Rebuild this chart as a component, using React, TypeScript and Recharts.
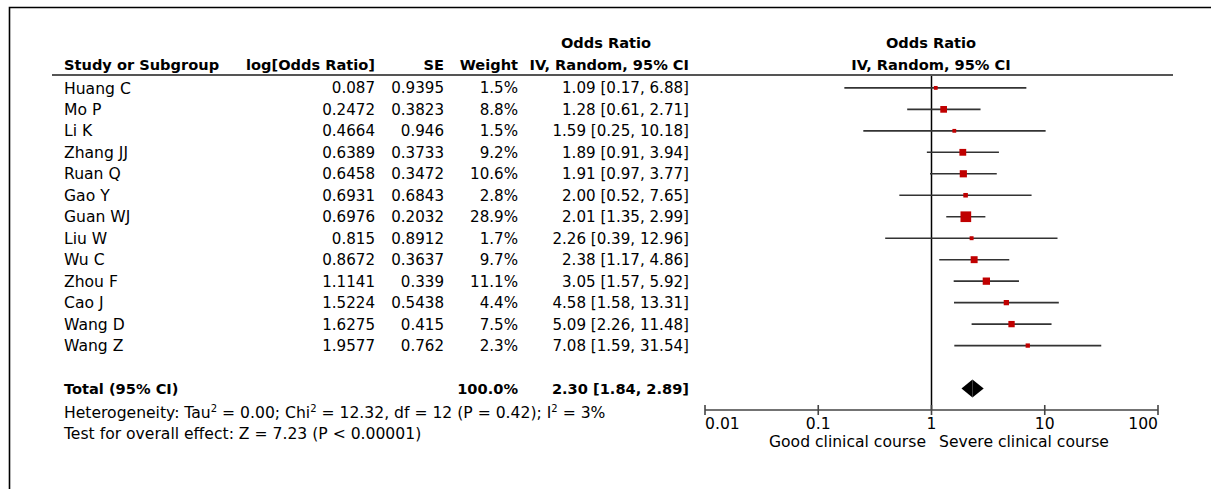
import React from 'react';
import {
  ScatterChart,
  Scatter,
  XAxis,
  YAxis,
  ReferenceLine,
  ReferenceArea,
} from 'recharts';

const studies = ['Huang C', 'Mo P', 'Li K', 'Zhang JJ', 'Ruan Q', 'Gao Y', 'Guan WJ', 'Liu W', 'Wu C', 'Zhou F', 'Cao J', 'Wang D', 'Wang Z'];
const logOdds = [0.087, 0.2472, 0.4664, 0.6389, 0.6458, 0.6931, 0.6976, 0.815, 0.8672, 1.1141, 1.5224, 1.6275, 1.9577];
const stdErr = [0.9395, 0.3823, 0.946, 0.3733, 0.3472, 0.6843, 0.2032, 0.8912, 0.3637, 0.339, 0.5438, 0.415, 0.762];
const weights = [1.5, 8.8, 1.5, 9.2, 10.6, 2.8, 28.9, 1.7, 9.7, 11.1, 4.4, 7.5, 2.3];
const oddsRatio = [1.09, 1.28, 1.59, 1.89, 1.91, 2.0, 2.01, 2.26, 2.38, 3.05, 4.58, 5.09, 7.08];
const ciLow = [0.17, 0.61, 0.25, 0.91, 0.97, 0.52, 1.35, 0.39, 1.17, 1.57, 1.58, 2.26, 1.59];
const ciHigh = [6.88, 2.71, 10.18, 3.94, 3.77, 7.65, 2.99, 12.96, 4.86, 5.92, 13.31, 11.48, 31.54];

const totalWeight = 100.0;
const totalOr = 2.3;
const totalLow = 1.84;
const totalHigh = 2.89;

const axisTicks = [0.01, 0.1, 1, 10, 100];
const axisTickLabels = ['0.01', '0.1', '1', '10', '100'];

const TOTAL_ROW = 14;
const FONT = '"DejaVu Sans", Verdana, sans-serif';
const FS_BOLD = 14.6; // headers and total row
const FS_NUM = 15.1; // numeric table cells
const FS_TEXT = 15.6; // names, footnotes, axis text
const RED = '#c00000';

const rows = studies.map((name, i) => ({
  name,
  row: i,
  or: oddsRatio[i],
  weight: weights[i],
}));

const fmtCi = (v: number, lo: number, hi: number) =>
  `${v.toFixed(2)} [${lo.toFixed(2)}, ${hi.toFixed(2)}]`;

// table columns (right edges except the study name)
const COL_NAME = 64;
const COL_LOG = 375;
const COL_SE = 444;
const COL_WEIGHT = 518;
const COL_CI = 689;

const RowTick = (props: any) => {
  const { y, payload } = props;
  const r = payload.value;
  const common = { fontFamily: FONT, fill: '#000', dy: '0.36em' };
  if (r === TOTAL_ROW) {
    return (
      <g fontWeight="bold" fontSize={FS_BOLD}>
        <text x={COL_NAME} y={y} {...common}>Total (95% CI)</text>
        <text x={COL_WEIGHT} y={y} {...common} textAnchor="end">{totalWeight.toFixed(1)}%</text>
        <text x={COL_CI} y={y} {...common} textAnchor="end">{fmtCi(totalOr, totalLow, totalHigh)}</text>
      </g>
    );
  }
  return (
    <g fontSize={FS_NUM}>
      <text x={COL_NAME} y={y} {...common} fontSize={FS_TEXT}>{studies[r]}</text>
      <text x={COL_LOG} y={y} {...common} textAnchor="end">{String(logOdds[r])}</text>
      <text x={COL_SE} y={y} {...common} textAnchor="end">{String(stdErr[r])}</text>
      <text x={COL_WEIGHT} y={y} {...common} textAnchor="end">{weights[r].toFixed(1)}%</text>
      <text x={COL_CI} y={y} {...common} textAnchor="end">{fmtCi(oddsRatio[r], ciLow[r], ciHigh[r])}</text>
    </g>
  );
};

const AxisTick = (props: any) => {
  const { x, y, index } = props;
  const anchor = index === 0 ? 'start' : index === axisTicks.length - 1 ? 'end' : 'middle';
  return (
    <g>
      <line x1={x} x2={x} y1={y - 5} y2={y + 5} stroke="#444" strokeWidth={1.6} />
      <text x={x} y={y + 19} textAnchor={anchor} fontFamily={FONT} fontSize={FS_TEXT} fill="#000">
        {axisTickLabels[index]}
      </text>
    </g>
  );
};

const WeightSquare = (props: any) => {
  const { cx, cy, payload } = props;
  const s = 1.8 + 1.65 * Math.sqrt(payload.weight);
  return <rect x={cx - s / 2} y={cy - s / 2} width={s} height={s} fill={RED} />;
};

const Sup = ({ children }: { children: React.ReactNode }) => (
  <tspan dy={-6} fontSize={10}>{children}</tspan>
);

const Header = () => {
  const t = { fontFamily: FONT, fontSize: FS_BOLD, fill: '#000' };
  const f = { fontFamily: FONT, fontSize: FS_TEXT, fill: '#000' };
  return (
    <svg width={1211} height={489} style={{ position: 'absolute', left: 0, top: 0, pointerEvents: 'none' }}>
      <path d="M9.5,489 V7.5 H1211" fill="none" stroke="#000" strokeWidth={1.6} />
      <g fontWeight="bold">
        <text x={606} y={48} {...t} textAnchor="middle">Odds Ratio</text>
        <text x={931} y={48} {...t} textAnchor="middle">Odds Ratio</text>
        <text x={COL_NAME} y={70} {...t}>Study or Subgroup</text>
        <text x={COL_LOG} y={70} {...t} textAnchor="end">log[Odds Ratio]</text>
        <text x={COL_SE} y={70} {...t} textAnchor="end">SE</text>
        <text x={COL_WEIGHT} y={70} {...t} textAnchor="end">Weight</text>
        <text x={COL_CI} y={70} {...t} textAnchor="end">IV, Random, 95% CI</text>
        <text x={931} y={70} {...t} textAnchor="middle">IV, Random, 95% CI</text>
      </g>
      <line x1={52} x2={1173} y1={75} y2={75} stroke="#555" strokeWidth={2} />
      <text x={COL_NAME} y={418} {...f}>
        Heterogeneity: Tau<Sup>2</Sup><tspan dy={6}> = 0.00; Chi</tspan><Sup>2</Sup>
        <tspan dy={6}> = 12.32, df = 12 (P = 0.42); I</tspan><Sup>2</Sup><tspan dy={6}> = 3%</tspan>
      </text>
      <text x={COL_NAME} y={439} {...f}>Test for overall effect: Z = 7.23 (P &lt; 0.00001)</text>
      <text x={926} y={447} {...f} textAnchor="end">Good clinical course</text>
      <text x={939} y={447} {...f}>Severe clinical course</text>
    </svg>
  );
};

export default function App() {
  return (
    <div style={{ position: 'relative', width: 1211, height: 489, background: '#fff' }}>
      <style>{'body{margin:0}'}</style>
      <ScatterChart width={1211} height={489} margin={{ top: 75, right: 53, bottom: 49, left: 645 }}>
        <XAxis
          type="number"
          dataKey="or"
          scale="log"
          domain={[0.01, 100]}
          allowDataOverflow
          ticks={axisTicks}
          interval={0}
          height={30}
          tickSize={0}
          tickMargin={0}
          tickLine={false}
          axisLine={{ stroke: '#444', strokeWidth: 1.6 }}
          tick={(p: any) => <AxisTick {...p} />}
        />
        <YAxis
          type="number"
          dataKey="row"
          domain={[-0.6, 15]}
          reversed
          allowDataOverflow
          ticks={[...studies.map((_, i) => i), TOTAL_ROW]}
          interval={0}
          width={60}
          axisLine={false}
          tickLine={false}
          tick={(p: any) => <RowTick {...p} />}
        />
        <ReferenceLine x={1} stroke="#000" strokeWidth={1.5} />
        {studies.map((s, i) => (
          <ReferenceLine
            key={s}
            segment={[{ x: ciLow[i], y: i }, { x: ciHigh[i], y: i }]}
            stroke="#333"
            strokeWidth={1.6}
          />
        ))}
        {/* pooled estimate diamond, drawn as two halves around the point estimate */}
        <ReferenceArea
          x1={totalLow}
          x2={totalOr}
          y1={TOTAL_ROW - 0.42}
          y2={TOTAL_ROW + 0.42}
          shape={(p: any) => (
            <polygon
              points={`${p.x},${p.y + p.height / 2} ${p.x + p.width},${p.y} ${p.x + p.width},${p.y + p.height}`}
              fill="#000"
            />
          )}
        />
        <ReferenceArea
          x1={totalOr}
          x2={totalHigh}
          y1={TOTAL_ROW - 0.42}
          y2={TOTAL_ROW + 0.42}
          shape={(p: any) => (
            <polygon
              points={`${p.x},${p.y} ${p.x + p.width},${p.y + p.height / 2} ${p.x},${p.y + p.height}`}
              fill="#000"
            />
          )}
        />
        <Scatter data={rows} isAnimationActive={false} shape={(p: any) => <WeightSquare {...p} />} />
      </ScatterChart>
      <Header />
    </div>
  );
}
